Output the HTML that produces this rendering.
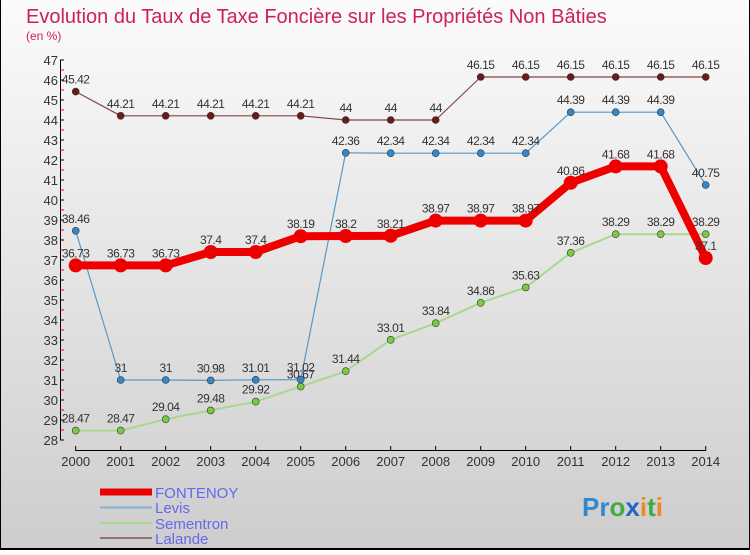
<!DOCTYPE html>
<html><head><meta charset="utf-8"><style>
body{margin:0}
svg text{font-family:"Liberation Sans",sans-serif}
</style></head><body>
<svg id="c" width="750" height="550" viewBox="0 0 750 550" xmlns="http://www.w3.org/2000/svg">
<defs><linearGradient id="bg" x1="0" y1="0" x2="0" y2="1"><stop offset="0" stop-color="#fbfbfb"/><stop offset="1" stop-color="#cdcdcd"/></linearGradient></defs>
<rect x="0" y="0" width="750" height="550" fill="url(#bg)"/>
<line x1="0.5" y1="0" x2="0.5" y2="550" stroke="#000"/>
<line x1="0" y1="549" x2="750" y2="549" stroke="#000" stroke-width="2"/>
<line x1="749.5" y1="0" x2="749.5" y2="550" stroke="#000"/>
<text x="26" y="23" font-size="20" fill="#cc2255">Evolution du Taux de Taxe Foncière sur les Propriétés Non Bâties</text>
<text x="26" y="40" font-size="12" fill="#cc2255">(en %)</text>
<g id="axes"></g>
<g id="series"></g>
<g>
<line x1="100" y1="492" x2="152" y2="492" stroke="#ee0000" stroke-width="7"/>
<text x="155" y="498" font-size="15" fill="#6666ee">FONTENOY</text>
<line x1="100" y1="507.5" x2="152" y2="507.5" stroke="#7fb0d5" stroke-width="2"/>
<text x="155" y="513" font-size="15" fill="#6666ee">Levis</text>
<line x1="100" y1="523" x2="152" y2="523" stroke="#a8d890" stroke-width="2"/>
<text x="155" y="529" font-size="15" fill="#6666ee">Sementron</text>
<line x1="100" y1="538" x2="152" y2="538" stroke="#9a7070" stroke-width="2"/>
<text x="155" y="544" font-size="15" fill="#6666ee">Lalande</text>
</g>
<text x="582" y="516" font-size="26" font-weight="bold"><tspan fill="#3388cc">Pr</tspan><tspan fill="#44aa44">o</tspan><tspan fill="#2266cc">x</tspan><tspan fill="#ee8822">i</tspan><tspan fill="#44aa44">t</tspan><tspan fill="#ee8822">i</tspan></text>
</svg>
<script>
const years=[2000,2001,2002,2003,2004,2005,2006,2007,2008,2009,2010,2011,2012,2013,2014];
const yTicks=[28,29,30,31,32,33,34,35,36,37,38,39,40,41,42,43,44,45,46,47];
const fontenoy=[36.73,36.73,36.73,37.4,37.4,38.19,38.2,38.21,38.97,38.97,38.97,40.86,41.68,41.68,37.1];
const levis=[38.46,31,31,30.98,31.01,31.02,42.36,42.34,42.34,42.34,42.34,44.39,44.39,44.39,40.75];
const sementron=[28.47,28.47,29.04,29.48,29.92,30.67,31.44,33.01,33.84,34.86,35.63,37.36,38.29,38.29,38.29];
const lalande=[45.42,44.21,44.21,44.21,44.21,44.21,44,44,44,46.15,46.15,46.15,46.15,46.15,46.15];
const NS="http://www.w3.org/2000/svg";
const X=i=>75.7+i*45;
const Y=v=>440-(v-28)*20;
function mk(tag,attrs,parent){const e=document.createElementNS(NS,tag);for(const k in attrs)e.setAttribute(k,attrs[k]);parent.appendChild(e);return e;}
const ax=document.getElementById('axes');
let l=mk('line',{x1:60.5,y1:Y(47),x2:60.5,y2:Y(28),stroke:'#000'},ax);


yTicks.forEach(t=>{
 const y=Y(t);
 mk('line',{x1:60,y1:y,x2:64,y2:y,stroke:'#000'},ax);
 if(t<47){mk('line',{x1:60,y1:y-10,x2:64,y2:y-10,stroke:'#e00'},ax);}
 const tx=mk('text',{x:58,y:y+5,'font-size':13,fill:'#333','text-anchor':'end'},ax);
 tx.textContent=t;
 
 
});
l=mk('line',{x1:X(0),y1:450.5,x2:X(14),y2:450.5,stroke:'#000'},ax);


years.forEach((yr,i)=>{
 mk('line',{x1:X(i),y1:446,x2:X(i),y2:451,stroke:'#000'},ax);
 const tx=mk('text',{x:X(i),y:466,'font-size':13,fill:'#333','text-anchor':'middle'},ax);
 tx.textContent=yr;
 
 
});
const sg=document.getElementById('series');
function draw(name,vals,color,w,r,dot){
 const g=mk('g',{},sg);
 
 
 const p=mk('polyline',{points:vals.map((v,i)=>X(i)+','+Y(v)).join(' '),fill:'none',stroke:color,'stroke-width':w,'stroke-linejoin':'round'},g);
 
 
 vals.forEach((v,i)=>{
  const c=mk('circle',{cx:X(i),cy:Y(v),r:r,fill:dot,stroke:'#333','stroke-width':r>5?0:0.6},g);
  
  
  const t=mk('text',{x:X(i),y:Y(v)-8,'font-size':12,fill:'#333','text-anchor':'middle','letter-spacing':'-0.5'},g);
  t.textContent=String(v);
  
  
 });
}
draw('lalande',lalande,'#8a4444',1.2,3.5,'#6a1a1a');
draw('sementron',sementron,'#a8d890',2,3.5,'#77cc44');
draw('levis',levis,'#5599cc',1.2,3.5,'#3388cc');
draw('fontenoy',fontenoy,'#ee0000',8,7,'#ee0000');
</script>
</body></html>
